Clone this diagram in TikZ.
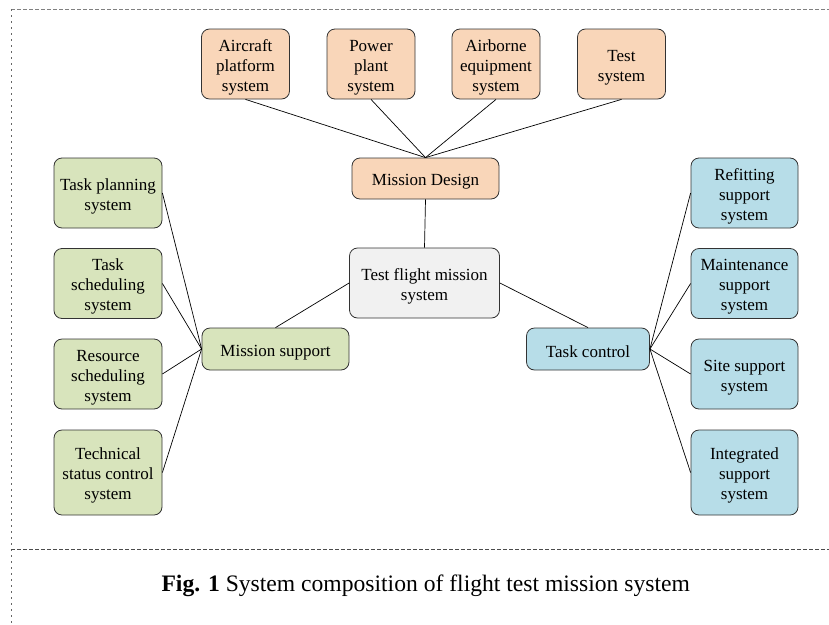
\documentclass[tikz,border=0pt]{standalone}
\usepackage{fontspec}
\setmainfont{Liberation Serif}
\definecolor{peach}{HTML}{F9D6B9}
\definecolor{leaf}{HTML}{D8E4BC}
\definecolor{sky}{HTML}{B7DDE8}
\definecolor{pale}{HTML}{F1F1F1}
\newcommand\boxlift{\rule{0pt}{18pt}}
\begin{document}
\begin{tikzpicture}[x=1pt,y=-1pt,
  box/.style={draw=black!80, line width=0.8pt, rounded corners=8pt, align=center,
    inner sep=0pt, font=\fontsize{17}{20}\selectfont},
  topbox/.style={box, fill=peach, minimum width=88pt, minimum height=70pt},
  lbox/.style={box, fill=leaf, minimum width=108pt, minimum height=70pt},
  rbox/.style={box, fill=sky, minimum width=107pt, minimum height=70pt},
  link/.style={draw=black, line width=0.7pt}]
\useasboundingbox (0,0) rectangle (829,624);
% frame lines
\draw[black!50, line width=0.8pt, dash pattern=on 4pt off 2pt] (11,9) -- (829,9);
\draw[black!60, line width=0.9pt, dash pattern=on 2pt off 4pt] (11,9) -- (11,624);
\draw[black!70, line width=0.8pt, dash pattern=on 4pt off 2pt] (11,549) -- (829,549);
% top boxes
\node[topbox] (ac) at (245.5,64) {\boxlift Aircraft\\platform\\system};
\node[topbox] (pp) at (371,64) {\boxlift Power\\plant\\system};
\node[topbox] (ae) at (496,64) {\boxlift Airborne\\equipment\\system};
\node[topbox] (ts) at (621.5,64) {\boxlift Test\\system};
% centre
\node[box, fill=peach, minimum width=147pt, minimum height=41pt] (md) at (425.5,178.5) {\boxlift Mission Design};
\node[box, fill=pale, minimum width=150pt, minimum height=70pt] (tf) at (424.5,283) {\boxlift Test flight mission\\system};
\node[box, fill=leaf, minimum width=147pt, minimum height=42pt] (ms) at (275.5,349) {\boxlift Mission support};
\node[box, fill=sky, minimum width=123pt, minimum height=42pt] (tc) at (588,349) {\boxlift Task control};
% left column
\node[lbox] (l1) at (108,193) {\boxlift Task planning\\system};
\node[lbox] (l2) at (108,283.5) {\boxlift Task\\scheduling\\system};
\node[lbox] (l3) at (108,374) {\boxlift Resource\\scheduling\\system};
\node[lbox, minimum height=85pt] (l4) at (108,472.5) {\boxlift Technical\\status control\\system};
% right column
\node[rbox] (r1) at (744.5,193) {\boxlift Refitting\\support\\system};
\node[rbox] (r2) at (744.5,283.5) {\boxlift Maintenance\\support\\system};
\node[rbox] (r3) at (744.5,374) {\boxlift Site support\\system};
\node[rbox, minimum height=85pt] (r4) at (744.5,472.5) {\boxlift Integrated\\support\\system};
% connectors
\foreach \t in {ac,pp,ae,ts} \draw[link] (md.north) -- (\t.south);
\draw[link] (md.south) -- (tf.north);
\draw[link] (tf.west) -- (ms.north);
\draw[link] (tf.east) -- (tc.north);
\foreach \t in {l1,l2,l3,l4} \draw[link] (ms.west) -- (\t.east);
\foreach \t in {r1,r2,r3,r4} \draw[link] (tc.east) -- (\t.west);
% caption
\node[font=\fontsize{23.6}{28}\selectfont, anchor=west] (cap) at (158,585.5) {\textbf{Fig. 1} System composition of flight test mission system};
\end{tikzpicture}
\end{document}
